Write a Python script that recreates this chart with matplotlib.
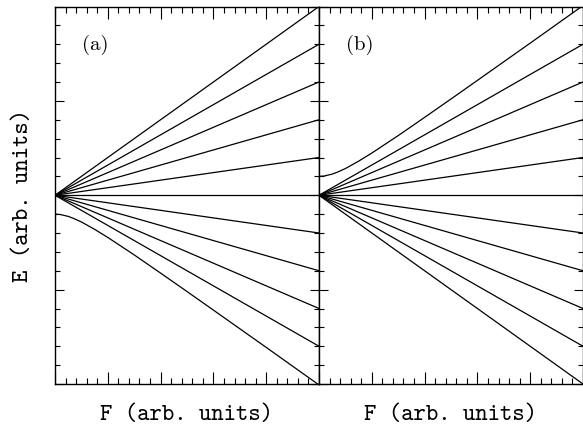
import numpy as np
import matplotlib
matplotlib.use("Agg")
import matplotlib.pyplot as plt
from matplotlib.ticker import MultipleLocator

# straight levels: E at F=0 and at F=5 (arb. units)
f_ends = [0.0, 5.0]
a_slopes_end = [2.0, 1.6, 1.2, 0.8, 0.4, 0.0, -0.4, -0.8, -1.2, -1.6]
b_slopes_end = [1.6, 1.2, 0.8, 0.4, 0.0, -0.4, -0.8, -1.2, -1.6, -2.0]

# avoided-crossing level (magnitude of E)
curve_f = [0.0, 0.1, 0.25, 0.35, 0.5, 0.75, 1.0, 1.5, 2.0, 2.5, 3.0, 4.0, 5.0]
curve_e = [0.20, 0.204, 0.224, 0.245, 0.283, 0.361, 0.447, 0.632, 0.825, 1.02, 1.217, 1.612, 2.01]

panel_tags = ["(a)", "(b)"]
xlabel = "F (arb. units)"
ylabel = "E (arb. units)"

plt.rcParams['font.family'] = ['cmtt10', 'DejaVu Sans Mono']
plt.rcParams['axes.unicode_minus'] = False

fig = plt.figure(figsize=(5.83, 4.30), dpi=100)
ax_a = fig.add_axes([55/583, 1-384/430, 264/583, 377.5/430])
ax_b = fig.add_axes([319/583, 1-384/430, 264/583, 377.5/430])

def setup(ax, tag):
    ax.set_xlim(0, 5)
    ax.set_ylim(-2, 2)
    ax.xaxis.set_major_locator(MultipleLocator(1))
    ax.xaxis.set_minor_locator(MultipleLocator(0.2))
    ax.yaxis.set_major_locator(MultipleLocator(1))
    ax.yaxis.set_minor_locator(MultipleLocator(0.2))
    ax.tick_params(axis='both', which='both', direction='in',
                   top=True, right=True, labelbottom=False, labelleft=False,
                   width=0.8, color='black')
    ax.tick_params(axis='x', which='major', length=8.5)
    ax.tick_params(axis='x', which='minor', length=4.5)
    ax.tick_params(axis='y', which='major', length=6.5)
    ax.tick_params(axis='y', which='minor', length=3.5)
    for s in ax.spines.values():
        s.set_linewidth(1.0)
    ax.text(0.102, 0.898, tag, transform=ax.transAxes, fontsize=15,
            family=['cmr10', 'DejaVu Serif'], ha='left', va='center')
    ax.set_xlabel(xlabel, fontsize=17, labelpad=15)

setup(ax_a, panel_tags[0])
setup(ax_b, panel_tags[1])
ax_a.set_ylabel(ylabel, fontsize=17, labelpad=15)

for e in a_slopes_end:
    ax_a.plot(f_ends, [0.0, e], color='black', lw=0.9)
ax_a.plot(curve_f, [-v for v in curve_e], color='black', lw=0.9)

for e in b_slopes_end:
    ax_b.plot(f_ends, [0.0, e], color='black', lw=0.9)
ax_b.plot(curve_f, curve_e, color='black', lw=0.9)

fig.savefig("out.png", dpi=100)
